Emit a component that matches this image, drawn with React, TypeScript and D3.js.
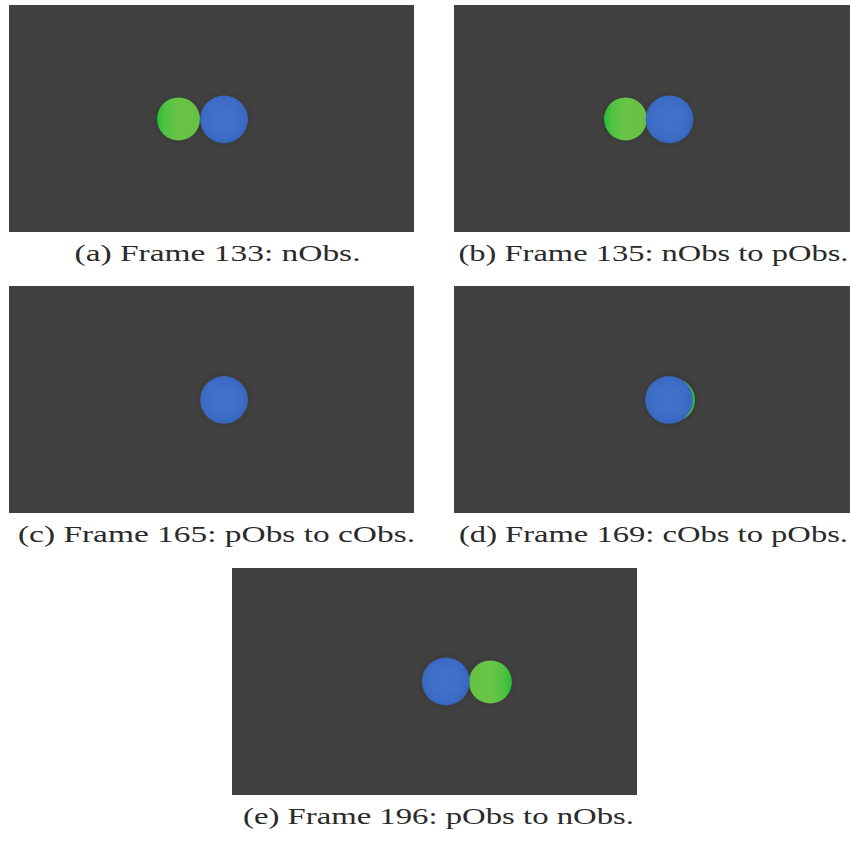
import React from "react";
import * as d3 from "d3";

// ---- data ----
const panelLabels = ["a", "b", "c", "d", "e"];
const frameNumbers = [133, 135, 165, 169, 196];
const transitions = ["nObs", "nObs to pObs", "pObs to cObs", "cObs to pObs", "pObs to nObs"];
// scene coordinates (fraction of the rendered frame)
const blueX = [0.531, 0.532, 0.531, 0.531, 0.528];
const blueY = [0.504, 0.504, 0.502, 0.502, 0.5];
const greenX: (number | null)[] = [0.4185, 0.4235, null, 0.542, 0.638];
const greenY: (number | null)[] = [0.502, 0.502, null, 0.502, 0.502];
const blueR = 0.059;
const greenR = 0.053;

const W = 850;
const H = 843;
const PW = 405;
const PH = 227;

export default function App() {
  // layout
  const colX = [9, 454];
  const rowY = [5, 286, 568];
  const captionDy = 256;
  const captionOffsetX = [6, -3, 5, -3, 4];
  const captionLen = [286, 390, 397, 389, 391];

  const panels = panelLabels.map((lab, i) => {
    const row = Math.floor(i / 2);
    const x0 = i === 4 ? 232 : colX[i % 2];
    const y0 = rowY[row];
    const sx = d3.scaleLinear().domain([0, 1]).range([0, PW]);
    const sy = d3.scaleLinear().domain([0, 1]).range([0, PH]);
    return { i, lab, x0, y0, sx, sy };
  });

  return (
    <svg
      width={W}
      height={H}
      style={{ position: "absolute", left: 0, top: 0, background: "#fff" }}
    >
      <defs>
        <radialGradient id="blueGrad" cx="0.48" cy="0.48" r="0.55">
          <stop offset="0%" stopColor="#4374c9" />
          <stop offset="75%" stopColor="#3c6cc5" />
          <stop offset="100%" stopColor="#3563b8" />
        </radialGradient>
        <linearGradient id="greenGradL" x1="0" x2="1" y1="0" y2="0">
          <stop offset="0%" stopColor="#26be38" />
          <stop offset="18%" stopColor="#50c242" />
          <stop offset="50%" stopColor="#6ac446" />
          <stop offset="100%" stopColor="#66c044" />
        </linearGradient>
        <linearGradient id="greenGradR" x1="1" x2="0" y1="0" y2="0">
          <stop offset="0%" stopColor="#26be38" />
          <stop offset="18%" stopColor="#50c242" />
          <stop offset="50%" stopColor="#6ac446" />
          <stop offset="100%" stopColor="#66c044" />
        </linearGradient>
        <radialGradient id="halo" cx="0.5" cy="0.5" r="0.5">
          <stop offset="70%" stopColor="#2e2e2e" stopOpacity={0.35} />
          <stop offset="100%" stopColor="#404040" stopOpacity={0} />
        </radialGradient>
        <filter id="soft" x="-20%" y="-20%" width="140%" height="140%">
          <feGaussianBlur stdDeviation="0.7" />
        </filter>
      </defs>
      {panels.map((p) => {
        const i = p.i;
        const bx = p.sx(blueX[i]);
        const by = p.sy(blueY[i]);
        const br = p.sx(blueR);
        const gxv = greenX[i];
        const gyv = greenY[i];
        const gr = p.sx(greenR);
        const hasGreen = gxv !== null && gyv !== null;
        const gx = hasGreen ? p.sx(gxv as number) : 0;
        const gy = hasGreen ? p.sy(gyv as number) : 0;
        const greenLeft = hasGreen && gx < bx;
        return (
          <g key={p.lab}>
            <g transform={`translate(${p.x0},${p.y0})`}>
              <rect width={PW} height={PH} fill="#414141" />
              <circle cx={bx} cy={by} r={br + 9} fill="url(#halo)" />
              {hasGreen && (
                <circle cx={gx} cy={gy} r={gr + 8} fill="url(#halo)" />
              )}
              {hasGreen && (
                <circle
                  cx={gx}
                  cy={gy}
                  r={gr}
                  fill={greenLeft ? "url(#greenGradL)" : "url(#greenGradR)"}
                  filter="url(#soft)"
                />
              )}
              <circle
                cx={bx}
                cy={by}
                r={br}
                fill="url(#blueGrad)"
                filter="url(#soft)"
              />
            </g>
            <text
              x={p.x0 + PW / 2 + captionOffsetX[i]}
              y={p.y0 + captionDy}
              textAnchor="middle"
              textLength={captionLen[i]}
              lengthAdjust="spacingAndGlyphs"
              fontFamily="'Liberation Serif', 'Times New Roman', serif"
              fontSize={22.5}
              fill="#2a2a2a"
            >
              {`(${p.lab}) Frame ${frameNumbers[i]}: ${transitions[i]}.`}
            </text>
          </g>
        );
      })}
    </svg>
  );
}
